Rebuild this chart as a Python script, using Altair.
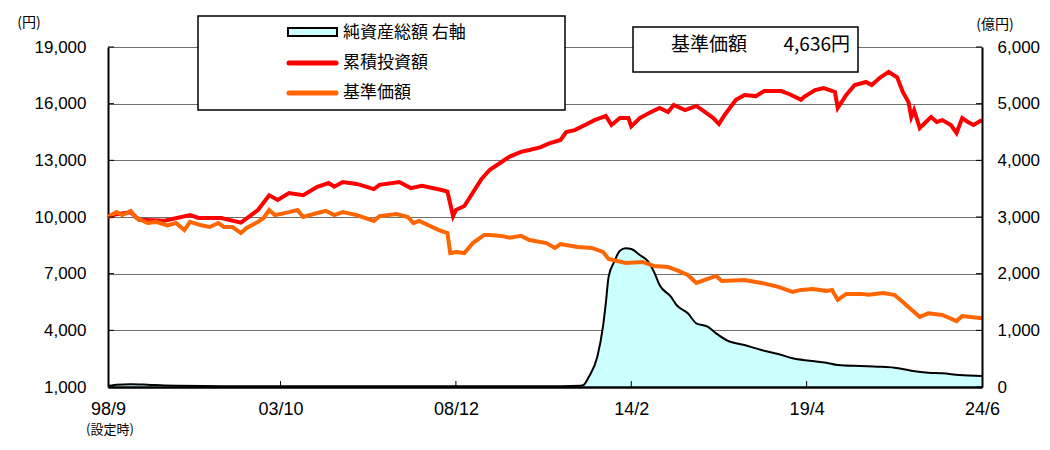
import altair as alt
import pandas as pd

# ---- data ----
# month index: 0 = 1998/09 ... 309 = 2024/06
red_m = [0,3,8,11,20,29,32,40,47,53,57,60,64,69,74,78,80,83,88,94,96,103,107,111,118,120,122,123,126,132,
         135,139,142,146,149,153,156,160,162,165,169,172,176,178,181,184,185,188,192,195,198,200,204,208,211,
         214,216,218,222,225,229,232,238,241,245,246,250,253,257,258,261,264,268,270,273,276,279,281,283,284,
         285,287,291,293,295,298,300,302,304,306,309]
red_v = [10000,10150,10250,9850,9800,10100,9950,9950,9700,10370,11150,10900,11270,11150,11600,11800,11600,11850,
         11750,11480,11700,11850,11530,11650,11430,11350,10050,10370,10580,12000,12500,12900,13200,13450,13550,
         13700,13900,14080,14500,14600,14900,15130,15350,14870,15240,15240,14800,15240,15560,15770,15560,15930,
         15660,15880,15560,15240,14920,15400,16200,16460,16400,16670,16670,16500,16200,16350,16720,16830,16620,
         15770,16460,16990,17150,16990,17380,17680,17400,16620,16090,15290,15660,14710,15290,15030,15130,14870,
         14450,15240,15030,14870,15130]

ora_m = [0,3,5,8,10,14,17,21,24,27,29,33,36,39,41,44,47,49,53,55,57,59,64,67,69,74,77,80,83,88,94,96,102,106,
         108,110,117,120,121,123,126,129,133,135,139,142,146,149,155,158,160,166,171,175,177,183,189,193,198,201,
         205,208,212,215,217,225,231,237,242,245,249,254,256,258,261,266,269,274,278,281,285,287,290,295,300,302,309]
ora_v = [10000,10260,10100,10320,9950,9680,9740,9560,9680,9310,9740,9560,9470,9680,9470,9470,9150,9420,9740,9950,
         10370,10100,10260,10370,10000,10210,10320,10100,10260,10100,9790,10050,10160,10000,9680,9790,9310,9150,
         8090,8150,8090,8620,9050,9050,9000,8900,9000,8780,8620,8360,8570,8410,8360,8150,7780,7570,7620,7410,7350,
         7190,6930,6510,6720,6880,6610,6660,6510,6300,6030,6140,6190,6090,6140,5610,5930,5930,5880,5980,5880,5500,
         4970,4710,4900,4810,4490,4760,4636]

na_m = [0,3,8,14,20,40,80,120,160,167,168,170,173,175,176,177,179,181,183,185,188,191,193,195,199,201,205,208,
        212,215,219,225,231,237,242,248,254,258,266,272,278,284,290,295,301,309]
na_v = [20,40,50,40,25,15,12,12,15,20,30,180,535,1064,1480,1947,2212,2406,2448,2435,2330,2212,2035,1800,1594,
        1447,1300,1124,1064,947,817,741,653,582,506,464,429,388,370,359,341,288,252,241,212,194]

x_tick_vals = [0, 61, 123, 185, 247, 309]
x_tick_labels = ["98/9", "03/10", "08/12", "14/2", "19/4", "24/6"]
left_ticks = [1000, 4000, 7000, 10000, 13000, 16000, 19000]
right_ticks = [0, 1000, 2000, 3000, 4000, 5000, 6000]

legend_labels = ["純資産総額 右軸", "累積投資額", "基準価額"]
nav_label = "基準価額"
nav_value = "4,636円"

red_df = pd.DataFrame({"m": red_m, "v": red_v})
ora_df = pd.DataFrame({"m": ora_m, "v": ora_v})
na_df = pd.DataFrame({"m": na_m, "v": na_v})
one = pd.DataFrame({"a": [0]})

W, H = 874, 340
FONT = "Liberation Sans"
JP = "Noto Sans CJK JP"

lab_arr = "[" + ",".join(f"'{s}'" for s in x_tick_labels) + "]"
val_arr = "[" + ",".join(str(v) for v in x_tick_vals) + "]"

X = alt.X("m:Q", scale=alt.Scale(domain=[0, 309], nice=False, zero=False),
          axis=alt.Axis(values=x_tick_vals, labelExpr=f"{lab_arr}[indexof({val_arr}, datum.value)]",
                        ticks=False, tickSize=0, grid=False, domainColor="black", domainWidth=2.5,
                        labelFont=FONT, labelFontSize=18, labelColor="black", labelPadding=13,
                        labelFlush=False, title=None, zindex=1))

yl = alt.Scale(domain=[1000, 19000], nice=False, zero=False)
yr = alt.Scale(domain=[0, 6000], nice=False, zero=False)

left_axis = alt.Axis(values=left_ticks, format=",.0f", grid=True, gridColor="#6e6e6e", gridWidth=1,
                     ticks=False, domainColor="black", domainWidth=2, labelFont=FONT, labelFontSize=17,
                     labelColor="black", labelPadding=22, title=None, orient="left")
right_axis = alt.Axis(values=right_ticks, format=",.0f", grid=False, ticks=False, domainColor="black",
                      domainWidth=2, labelFont=FONT, labelFontSize=17, labelColor="black",
                      labelPadding=15, title=None, orient="right", zindex=1)

# right-axis group (net assets)
area = alt.Chart(na_df).mark_area(color="#ccffff", interpolate="monotone").encode(
    x=X, y=alt.Y("v:Q", scale=yr, axis=right_axis))
outline = alt.Chart(na_df).mark_line(color="black", strokeWidth=2, interpolate="monotone").encode(
    x=X, y=alt.Y("v:Q", scale=yr, axis=right_axis))
rticks = alt.Chart(pd.DataFrame({"v": right_ticks})).mark_rule(color="black", strokeWidth=1).encode(
    x=alt.value(W - 6), x2=alt.value(W), y=alt.Y("v:Q", scale=yr, axis=right_axis))
right = alt.layer(area, outline, rticks)

# left-axis group
red = alt.Chart(red_df).mark_line(color="#ff0000", strokeWidth=4).encode(
    x=X, y=alt.Y("v:Q", scale=yl, axis=left_axis))
ora = alt.Chart(ora_df).mark_line(color="#ff6600", strokeWidth=4).encode(
    x=X, y=alt.Y("v:Q", scale=yl, axis=left_axis))
lticks = alt.Chart(pd.DataFrame({"v": left_ticks})).mark_rule(color="black", strokeWidth=1).encode(
    x=alt.value(0), x2=alt.value(6), y=alt.Y("v:Q", scale=yl, axis=left_axis))
xticks = alt.Chart(pd.DataFrame({"m": x_tick_vals[1:-1]})).mark_rule(color="black", strokeWidth=1).encode(
    x=X, y=alt.value(H), y2=alt.value(H - 6))
left = alt.layer(red, ora, lticks, xticks)

# annotations: legend box, value box, axis unit titles
leg_box = alt.Chart(one).mark_rect(fill="white", stroke="black", strokeWidth=1.5).encode(
    x=alt.value(90), x2=alt.value(457), y=alt.value(-31), y2=alt.value(63))
leg_sym = alt.Chart(one).mark_rect(fill="#ccffff", stroke="black", strokeWidth=2).encode(
    x=alt.value(180), x2=alt.value(229), y=alt.value(-19), y2=alt.value(-11))
leg_red = alt.Chart(one).mark_rule(color="#ff0000", strokeWidth=5, strokeCap="round").encode(
    x=alt.value(181), x2=alt.value(228), y=alt.value(16))
leg_ora = alt.Chart(one).mark_rule(color="#ff6600", strokeWidth=5, strokeCap="round").encode(
    x=alt.value(181), x2=alt.value(228), y=alt.value(46))
leg_t = [alt.Chart(one).mark_text(text=t, align="left", baseline="middle", font=JP, fontSize=17,
                                  color="black").encode(x=alt.value(235), y=alt.value(yy))
         for t, yy in zip(legend_labels, [-14, 16, 46])]

nav_box = alt.Chart(one).mark_rect(fill="white", stroke="black", strokeWidth=1.5).encode(
    x=alt.value(525), x2=alt.value(750), y=alt.value(-20), y2=alt.value(25))
nav_t1 = alt.Chart(one).mark_text(text=nav_label, align="left", baseline="middle", font=JP, fontSize=19,
                                  color="black").encode(x=alt.value(563), y=alt.value(-2))
nav_t2 = alt.Chart(one).mark_text(text=nav_value, align="right", baseline="middle", font=JP, fontSize=19,
                                  color="black").encode(x=alt.value(742), y=alt.value(-2))

unit_l = alt.Chart(one).mark_text(text="(円)", align="center", baseline="middle", font=JP, fontSize=14,
                                  color="black").encode(x=alt.value(-79), y=alt.value(-24))
unit_r = alt.Chart(one).mark_text(text="(億円)", align="center", baseline="middle", font=JP, fontSize=14,
                                  color="black").encode(x=alt.value(887), y=alt.value(-22))
setup = alt.Chart(one).mark_text(text="(設定時)", align="center", baseline="middle", font=JP, fontSize=13,
                                 color="black").encode(x=alt.value(2), y=alt.value(383))

annot = alt.layer(leg_box, leg_sym, leg_red, leg_ora, *leg_t, nav_box, nav_t1, nav_t2, unit_l, unit_r, setup)

chart = alt.layer(right, left, annot).resolve_scale(y="independent").properties(
    width=W, height=H,
    autosize=alt.AutoSizeParams(type="none"),
    padding={"left": 100, "top": 39, "right": 60, "bottom": 55},
    background="white",
).configure_view(stroke=None)

chart.save("out.html", embed_options={"renderer": "svg", "actions": False})
